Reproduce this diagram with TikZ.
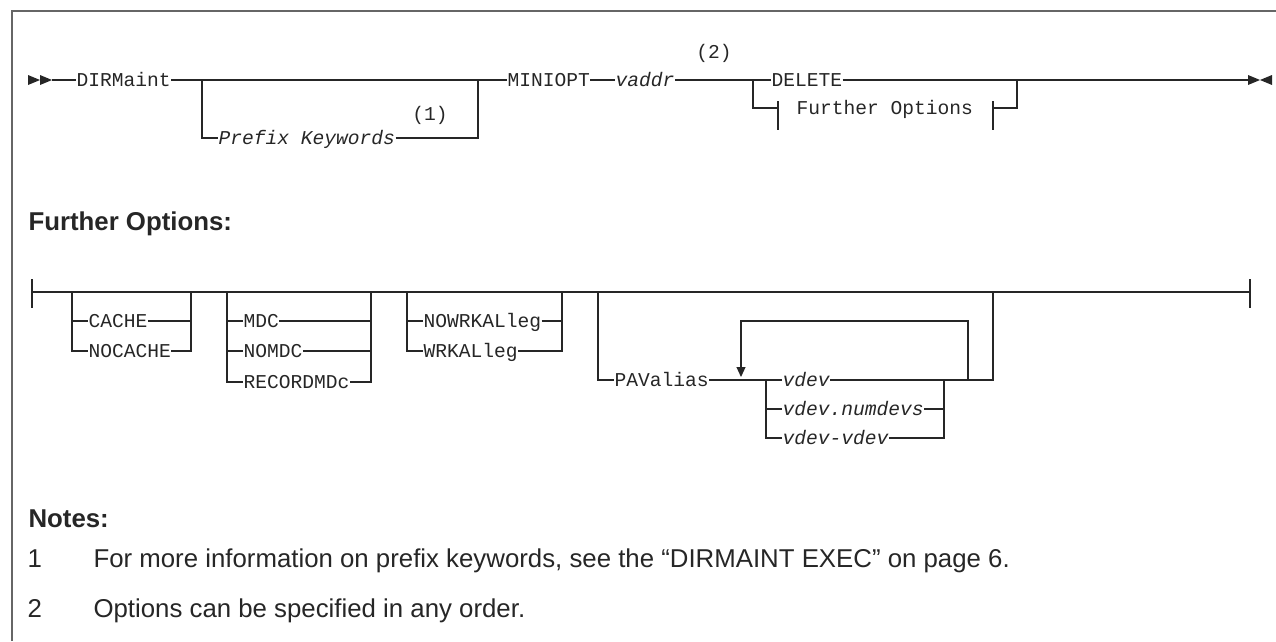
\documentclass[tikz,border=0pt]{standalone}
\usepackage{fontspec}
\setmainfont{Liberation Sans}
\newfontfamily\railfont{Liberation Mono}
\usetikzlibrary{arrows.meta}
\pgfkeys{tikz/railtext/.style={anchor=west,inner sep=0pt,text height=13pt,text depth=0pt,font=\railfont\fontsize{19.6}{20}\selectfont},
  tikz/railvar/.style={railtext,font=\railfont\itshape\fontsize{19.6}{20}\selectfont},
  tikz/railnote/.style={anchor=base west,inner sep=0pt,font=\fontsize{25.8}{30}\selectfont},
  tikz/railhead/.style={railnote,font=\bfseries\fontsize{25.8}{30}\selectfont}}
% filled tip at #1, its base on the side given by #2
\newcommand*\railtip[2]{\fill (#1) -- ++({12*#2},5) -- ++(0,-10) -- cycle;}
% stack of choices between (#2-l) and (#2-r)
\newcommand*\railchoice[4][railtext]{%
  \foreach \y/\t [count=\i] in {#4} {%
    \node [#1] (#2-\i) at ({#3+16},\y) {\t};
    \draw (#2-l) |- (#2-\i.west);
    \draw (#2-\i.east) -| (#2-r);
  }%
}

\begin{document}
\begin{tikzpicture}[x=1pt,y=-1pt,line width=1.1pt,color=black!85]
\useasboundingbox (0,0) rectangle (1276,641);
\draw[line width=1.3pt,black!60] (12,641) |- (1276,11);

% main diagram
\coordinate (s) at (52,80);
\coordinate (e) at (1249,80);
\railtip{40,80}{-1} \railtip{52,80}{-1}
\railtip{1260,80}{-1} \railtip{1260,80}{1}
\node[railtext] (dirm) at (76,80) {DIRMaint};
\node[railtext] (miniopt) at (507,80) {MINIOPT};
\node[railvar] (vaddr) at (615,80) {vaddr};
\node[railtext] (delete) at (771,80) {DELETE};
\node[railtext,anchor=center] (n1) at (430,114) {(1)};
\node[railtext,anchor=center] (n2) at (714,52) {(2)};
\draw (s) -- (dirm.west);
\draw (dirm.east) -- (miniopt.west);
\draw (miniopt.east) -- (vaddr.west);
\draw (vaddr.east) -- (delete.west);
\draw (delete.east) -- (e);
\coordinate (pk-l) at (202,80);
\coordinate (pk-r) at (478,80);
\railchoice[railvar]{pk}{202}{138/Prefix Keywords}

% fragment reference
\coordinate (op-l) at (753,80);
\coordinate (op-r) at (1017,80);
\coordinate (fo-l) at (778,108);
\coordinate (fo-r) at (993,108);
\node[railtext] (fo) at (796,108) {Further Options};
\draw (op-l) |- (fo-l) ++(0,-7) -- ++(0,29);
\draw (fo-r) ++(0,-7) -- ++(0,29);
\draw (fo-r) -| (op-r);

% further options
\node[railhead] (fohead) at (28,230) {Further Options:};
\coordinate (fs) at (32,292);
\coordinate (fe) at (1250,292);
\draw (fs) ++(0,-13) -- ++(0,29);
\draw (fe) ++(0,-13) -- ++(0,29);
\draw (fs) -- (fe);
\foreach \g/\l/\r in {ca/72/191, md/227/371, wk/407/562, pv/598/993} {
  \coordinate (\g-l) at (\l,292);
  \coordinate (\g-r) at (\r,292);
}
\railchoice{ca}{72}{321/CACHE, 351/NOCACHE}
\railchoice{md}{227}{321/MDC, 351/NOMDC, 382/RECORDMDc}
\railchoice{wk}{407}{321/NOWRKALleg, 351/WRKALleg}
\node[railtext] (pav) at (614,380) {PAValias};
\draw (pv-l) |- (pav.west);
\coordinate (vd-l) at (766,380);
\coordinate (vd-r) at (944,380);
\railchoice[railvar]{vd}{766}{380/vdev, 409/vdev.numdevs, 438/vdev-vdev}
\draw (pav.east) -- (vd-l);
\draw (vd-r) -| (pv-r);
\coordinate (lp-l) at (741,380);
\coordinate (lp-r) at (968,380);
\draw[-{Triangle[length=10pt,width=9pt]},shorten >=3pt] (lp-r) -- ++(0,-59) -| (lp-l);

% notes
\node[railhead] (nohead) at (28,527) {Notes:};
\foreach \n/\y/\t in {1/567/{For more information on prefix keywords, see the “DIRMAINT EXEC” on page 6.},
  2/617/{Options can be specified in any order.}} {
  \node[railnote] (num-\n) at (27,\y) {\n};
  \node[railnote] (note-\n) at (93,\y) {\t};
}
\end{tikzpicture}
\end{document}
